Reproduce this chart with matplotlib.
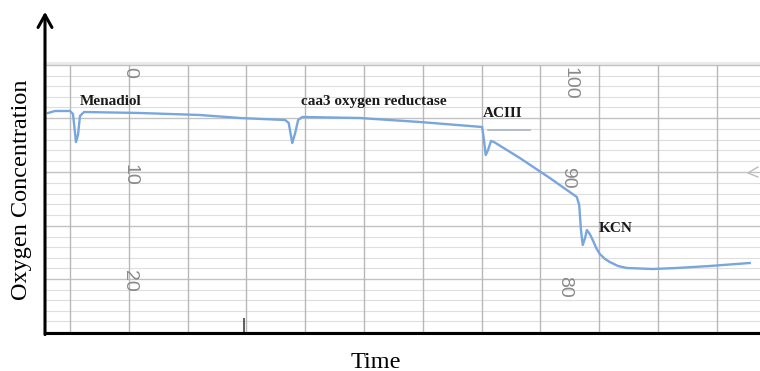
import numpy as np
import matplotlib
matplotlib.use("Agg")
import matplotlib.pyplot as plt

# ---- data (time in chart divisions, oxygen in chart-scale %) ----
trace_time = [-0.374, -0.255, 0.0, 0.051, 0.102, 0.136, 0.170, 0.238, 1.19, 2.21, 2.89,
              3.66, 3.72, 3.78, 3.83, 3.88, 3.95, 4.93, 5.95, 7.01, 7.04, 7.07, 7.11,
              7.16, 7.21, 7.65, 8.16, 8.62, 8.66, 8.69, 8.72, 8.76, 8.79, 8.84, 8.89,
              8.95, 9.01, 9.10, 9.18, 9.32, 9.47, 9.91, 10.32, 10.88, 11.56]
trace_oxygen = [97.0, 97.2, 97.2, 96.9, 94.1, 94.8, 96.7, 97.1, 97.0, 96.8, 96.5,
                96.3, 96.0, 94.0, 95.0, 96.3, 96.6, 96.5, 96.1, 95.6, 94.3, 92.8, 93.3,
                94.2, 94.1, 92.5, 90.5, 88.6, 87.8, 85.3, 83.8, 84.5, 85.3, 84.9, 84.3,
                83.5, 82.9, 82.4, 82.1, 81.7, 81.5, 81.4, 81.5, 81.7, 82.0]

event_labels = ["Menadiol", "caa3 oxygen reductase", "ACIII", "KCN"]
event_time = [0.17, 3.93, 7.02, 9.0]
event_oxygen = [97.8, 97.8, 96.6, 85.1]

scale_left_labels = ["0", "10", "20"]
scale_left_time = [1.02, 1.02, 1.02]
scale_left_oxygen = [101.1, 90.8, 80.2]
scale_right_labels = ["100", "90", "80"]
scale_right_time = [8.50, 8.47, 8.42]
scale_right_oxygen = [100.0, 90.5, 79.6]

# ---- figure ----
W, H = 760, 371
fig = plt.figure(figsize=(W / 100, H / 100), dpi=100)
ax = fig.add_axes([45 / W, 1 - 333 / H, 715 / W, 318 / H])
x0, x1 = -0.425, 11.735
y0, y1 = 75.0, 106.8
paper_top = 101.8
ax.set_xlim(x0, x1)
ax.set_ylim(y0, y1)

# chart paper grid
majors = [101.8, 96.5, 91.1, 85.7, 80.4, 75.1]
for a, b in zip(majors[:-1], majors[1:]):
    for yy in np.linspace(a, b, 6)[1:-1]:
        ax.hlines(yy, x0, x1, color="#dedede", lw=0.8, zorder=1)
ax.hlines(majors, x0, x1, color="#c2c2c2", lw=1.0, zorder=1)
ax.hlines(paper_top + 0.15, x0, x1, color="#ececec", lw=3, zorder=0)
vgrid = np.arange(0, 12)
ax.vlines(vgrid, y0, paper_top, color="#b8b8b8", lw=1.0, zorder=1)

# scale numbers printed on the paper
for t, xx, yy in zip(scale_left_labels, scale_left_time, scale_left_oxygen):
    ax.text(xx, yy, t, rotation=-90, ha="center", va="center", fontsize=14,
            color="#8a8a8a", family="Liberation Sans", zorder=2)
for t, xx, yy in zip(scale_right_labels, scale_right_time, scale_right_oxygen):
    ax.text(xx, yy, t, rotation=-90, ha="center", va="center", fontsize=14,
            color="#8a8a8a", family="Liberation Sans", zorder=2)

# small pen marks on the paper
ax.plot([7.11, 7.82], [95.3, 95.3], color="#aab4c4", lw=1.2, zorder=2)
ax.vlines(2.96, 75.0, 76.5, color="#444444", lw=1.2, zorder=2)
ax.plot([11.70, 11.53, 11.70], [91.6, 91.0, 90.6], color="#bbbbbb", lw=1.0, zorder=2)

# oxygen trace
ax.plot(trace_time, trace_oxygen, color="#78a6de", lw=1.7, zorder=3,
        solid_joinstyle="round")

for t, xx, yy in zip(event_labels, event_time, event_oxygen):
    ax.text(xx, yy, t, ha="left", va="baseline", fontsize=11, fontweight="bold",
            family="Liberation Serif", color="#1a1a1a", zorder=4)

# axes: thick baseline and arrowed y-axis
for s in ["top", "right", "left"]:
    ax.spines[s].set_visible(False)
ax.spines["bottom"].set_linewidth(2.2)
ax.spines["bottom"].set_color("black")
ax.set_xticks([])
ax.set_yticks([])
ax.annotate("", xy=(0, 1.01), xytext=(0, -0.005), xycoords="axes fraction",
            arrowprops=dict(arrowstyle="->,head_length=0.45,head_width=0.25",
                            lw=2.2, color="black", mutation_scale=20,
                            shrinkA=0, shrinkB=0),
            annotation_clip=False)

fig.text(376 / W, 1 - 362 / H, "Time", ha="center", va="center",
         fontsize=17.5, family="Liberation Serif")
fig.text(22 / W, 1 - 190 / H, "Oxygen Concentration", ha="center", va="center",
         rotation=90, fontsize=17.5, family="Liberation Serif")

fig.savefig("out.png", dpi=100)
